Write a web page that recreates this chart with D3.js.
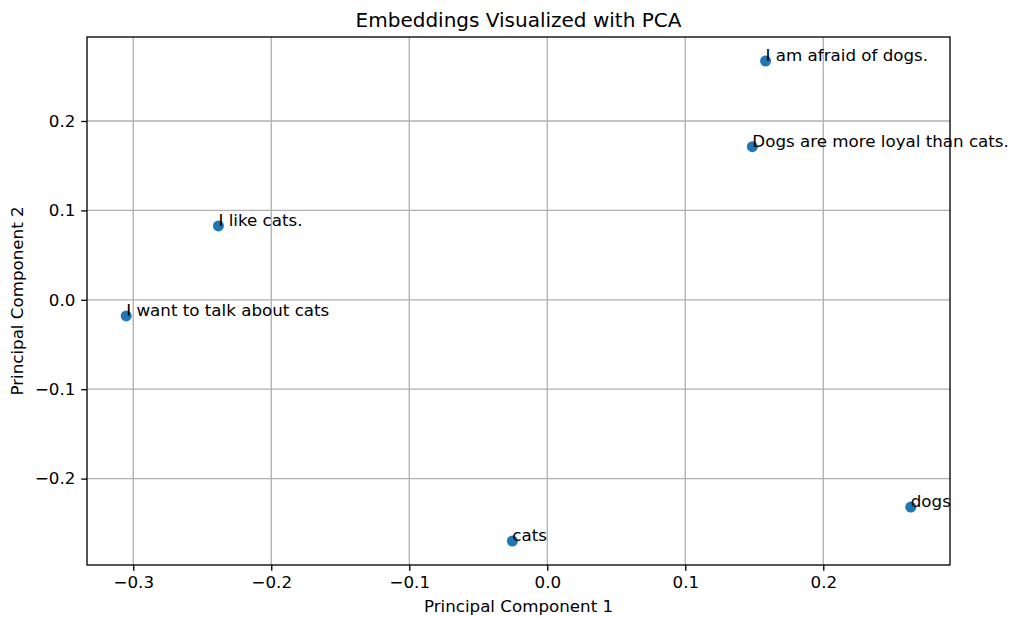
<!DOCTYPE html>
<html><head><meta charset="utf-8">
<script src="https://cdn.jsdelivr.net/npm/d3@7"></script>
<style>
body{margin:0;background:#fff;}
svg{font-family:"DejaVu Sans",sans-serif;}
</style></head>
<body><svg id="c" width="1014" height="617"></svg>
<script>
const labels = ["I am afraid of dogs.","Dogs are more loyal than cats.","I like cats.","I want to talk about cats","cats","dogs"];
const pc1 = [0.1582, 0.1486, -0.2383, -0.3051, -0.0253, 0.2634];
const pc2 = [0.2671, 0.1713, 0.0826, -0.0181, -0.2698, -0.2318];
const xTicks = [-0.3,-0.2,-0.1,0.0,0.1,0.2];
const yTicks = [-0.2,-0.1,0.0,0.1,0.2];

const L=87,T=37,R=950,B=565;
const FS="16.7px";
const svg=d3.select("#c");
function padDomain(a){const mn=d3.min(a),mx=d3.max(a),m=(mx-mn)*0.05;return [mn-m,mx+m];}
const x=d3.scaleLinear().domain(padDomain(pc1)).range([L,R]);
const y=d3.scaleLinear().domain(padDomain(pc2)).range([B,T]);
const fmt=d=>(d<0?"\u2212":"")+Math.abs(d).toFixed(1);

// grid
svg.append("g").selectAll("line").data(xTicks).join("line")
 .attr("x1",d=>x(d)).attr("x2",d=>x(d)).attr("y1",T).attr("y2",B)
 .attr("stroke","#b0b0b0").attr("stroke-width",1.33);
svg.append("g").selectAll("line").data(yTicks).join("line")
 .attr("y1",d=>y(d)).attr("y2",d=>y(d)).attr("x1",L).attr("x2",R)
 .attr("stroke","#b0b0b0").attr("stroke-width",1.33);

// axes
const xa=svg.append("g").attr("transform",`translate(0,${B})`)
 .call(d3.axisBottom(x).tickValues(xTicks).tickFormat(fmt).tickSize(5.8).tickPadding(5.8));
const ya=svg.append("g").attr("transform",`translate(${L},0)`)
 .call(d3.axisLeft(y).tickValues(yTicks).tickFormat(fmt).tickSize(5.8).tickPadding(5.8));
[xa,ya].forEach(g=>{g.select(".domain").remove();
 g.selectAll("text").attr("font-size",FS).attr("fill","#000").attr("font-family","DejaVu Sans");
 g.selectAll("line").attr("stroke","#000").attr("stroke-width",1.33);});

svg.append("rect").attr("x",L).attr("y",T).attr("width",R-L).attr("height",B-T)
 .attr("fill","none").attr("stroke","#000").attr("stroke-width",1.33);

// points
const idx=d3.range(labels.length);
svg.append("g").selectAll("circle").data(idx).join("circle")
 .attr("cx",i=>x(pc1[i])).attr("cy",i=>y(pc2[i])).attr("r",5.5).attr("fill","#1f77b4");
svg.append("g").selectAll("text").data(idx).join("text")
 .attr("x",i=>x(pc1[i])).attr("y",i=>y(pc2[i])).text(i=>labels[i])
 .attr("font-size",FS).attr("fill","#000");

// titles
svg.append("text").attr("x",(L+R)/2).attr("y",27).attr("text-anchor","middle")
 .attr("font-size","20px").text("Embeddings Visualized with PCA");
svg.append("text").attr("x",(L+R)/2).attr("y",612).attr("text-anchor","middle")
 .attr("font-size",FS).text("Principal Component 1");
svg.append("text").attr("transform",`translate(23,${(T+B)/2}) rotate(-90)`).attr("text-anchor","middle")
 .attr("font-size",FS).text("Principal Component 2");
</script></body></html>
